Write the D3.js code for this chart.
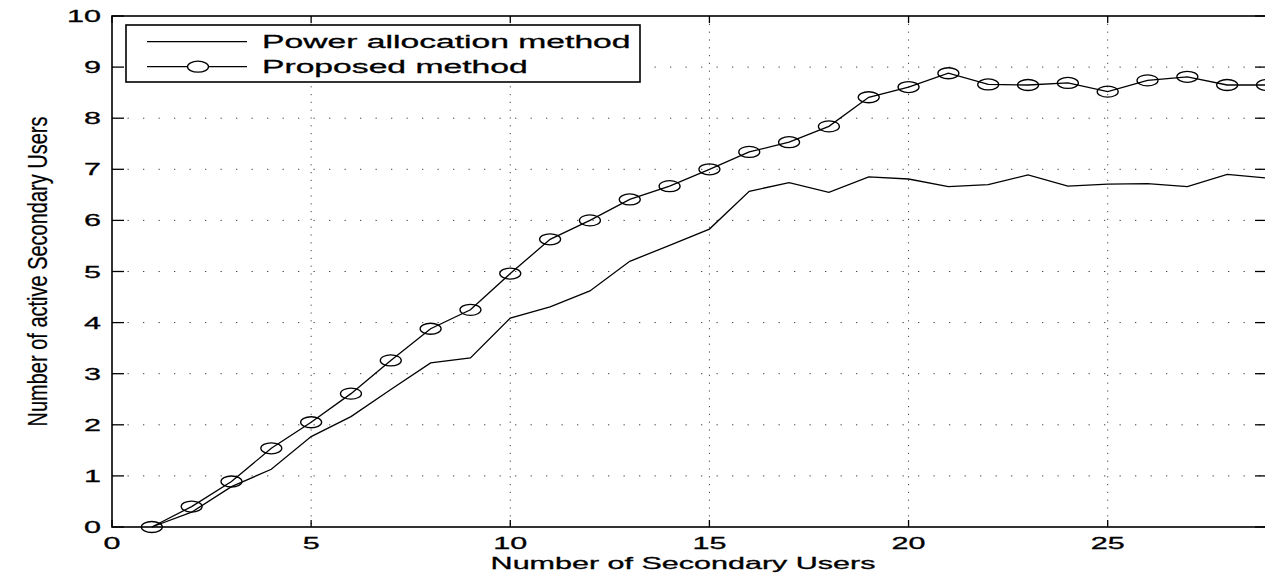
<!DOCTYPE html>
<html>
<head>
<meta charset="utf-8">
<script src="https://cdn.jsdelivr.net/npm/d3@7"></script>
<style>
  html, body { margin: 0; padding: 0; background: #fff; }
  svg { display: block; }
  text { font-family: "Liberation Sans", Arial, Helvetica, sans-serif; fill: #000;
         stroke: #000; stroke-width: 0.3px; }
</style>
</head>
<body>
<svg id="chart" width="1265" height="576"></svg>
<script>
// number of secondary users (x) and the two curves
const secondaryUsers = [1, 2, 3, 4, 5, 6, 7, 8, 9, 10, 11, 12, 13, 14, 15,
  16, 17, 18, 19, 20, 21, 22, 23, 24, 25, 26, 27, 28, 29];
const powerAllocation = [0, 0.29, 0.79, 1.13, 1.77, 2.16, 2.69, 3.21, 3.31, 4.09,
  4.31, 4.62, 5.2, 5.51, 5.83, 6.57, 6.74, 6.55, 6.85, 6.81, 6.66, 6.7, 6.89, 6.67,
  6.71, 6.72, 6.66, 6.9, 6.83];
const proposedMethod = [0, 0.4, 0.89, 1.54, 2.05, 2.61, 3.26, 3.88, 4.25, 4.96,
  5.63, 6.0, 6.41, 6.67, 7.0, 7.34, 7.53, 7.84, 8.41, 8.61, 8.88, 8.66, 8.65, 8.69,
  8.52, 8.74, 8.81, 8.65, 8.65];
const xTicks = [0, 5, 10, 15, 20, 25];
const yTicks = [0, 1, 2, 3, 4, 5, 6, 7, 8, 9, 10];
const legendLabels = ["Power allocation method", "Proposed method"];

const svg = d3.select("#chart");
const plotLeft = 112, plotRight = 1267, plotTop = 16, plotBottom = 527;

const xScale = d3.scaleLinear().domain([0, 29]).range([plotLeft, plotRight]);
const yScale = d3.scaleLinear().domain([0, 10]).range([plotBottom, plotTop]);

/**
 * Appends a text that is stretched horizontally like the original figure.
 */
function stretchedText(parent, x, y, sx, fontSize, anchor, label) {
  return parent.append("text")
    .attr("transform", `translate(${x},${y}) scale(${sx},1)`)
    .attr("text-anchor", anchor)
    .style("font-size", fontSize + "px")
    .text(label);
}

svg.append("rect").attr("width", 1265).attr("height", 576).attr("fill", "#fff");

// dotted grid
const grid = svg.append("g").attr("class", "grid");
grid.selectAll(".hgrid")
  .data(yTicks.slice(1, -1))
  .join("line")
  .attr("x1", plotLeft).attr("x2", plotRight)
  .attr("y1", (d) => yScale(d)).attr("y2", (d) => yScale(d))
  .attr("stroke", "#444").attr("stroke-width", 1)
  .attr("stroke-dasharray", "1.3,14.2");
grid.selectAll(".vgrid")
  .data(xTicks.slice(1))
  .join("line")
  .attr("x1", (d) => xScale(d)).attr("x2", (d) => xScale(d))
  .attr("y1", plotTop).attr("y2", plotBottom)
  .attr("stroke", "#444").attr("stroke-width", 1)
  .attr("stroke-dasharray", "1.2,6.6");

// inward ticks on all four sides
const ticks = svg.append("g").attr("stroke", "#000").attr("stroke-width", 1.3);
yTicks.forEach((d) => {
  ticks.append("line").attr("x1", plotLeft).attr("x2", plotLeft + 12)
    .attr("y1", yScale(d)).attr("y2", yScale(d));
  ticks.append("line").attr("x1", plotRight - 12).attr("x2", plotRight)
    .attr("y1", yScale(d)).attr("y2", yScale(d));
});
xTicks.forEach((d) => {
  ticks.append("line").attr("x1", xScale(d)).attr("x2", xScale(d))
    .attr("y1", plotBottom).attr("y2", plotBottom - 7);
  ticks.append("line").attr("x1", xScale(d)).attr("x2", xScale(d))
    .attr("y1", plotTop).attr("y2", plotTop + 7);
});

// axes frame
svg.append("rect")
  .attr("x", plotLeft).attr("y", plotTop)
  .attr("width", plotRight - plotLeft).attr("height", plotBottom - plotTop)
  .attr("fill", "none").attr("stroke", "#000").attr("stroke-width", 1.6);

// tick labels
const labels = svg.append("g");
yTicks.forEach((d) => {
  stretchedText(labels, 101, yScale(d) + 6, 1.85, 16.5, "end", d);
});
xTicks.forEach((d) => {
  stretchedText(labels, xScale(d), 549, 1.85, 16.5, "middle", d);
});

// axis titles
stretchedText(svg, 683, 569, 1.85, 16.5, "middle", "Number of Secondary Users");
svg.append("text")
  .attr("transform", `translate(47,${(plotTop + plotBottom) / 2}) scale(1.35,1) rotate(-90)`)
  .attr("text-anchor", "middle")
  .style("font-size", "20px")
  .style("stroke-width", "0.15px")
  .text("Number of active Secondary Users");

// curves
const line = (values) => d3.line()
  .x((d, i) => xScale(secondaryUsers[i]))
  .y((d) => yScale(d))(values);

svg.append("path")
  .attr("d", line(powerAllocation))
  .attr("fill", "none").attr("stroke", "#000").attr("stroke-width", 1.3);

svg.append("path")
  .attr("d", line(proposedMethod))
  .attr("fill", "none").attr("stroke", "#000").attr("stroke-width", 1.3);

svg.append("g")
  .selectAll("ellipse")
  .data(proposedMethod)
  .join("ellipse")
  .attr("cx", (d, i) => xScale(secondaryUsers[i]))
  .attr("cy", (d) => yScale(d))
  .attr("rx", 10.5).attr("ry", 5.5)
  .attr("fill", "none").attr("stroke", "#000").attr("stroke-width", 1.3);

// legend
const legend = svg.append("g");
legend.append("rect")
  .attr("x", 126).attr("y", 25).attr("width", 514).attr("height", 57)
  .attr("fill", "#fff").attr("stroke", "#000").attr("stroke-width", 1.6);
legendLabels.forEach((label, i) => {
  const ly = 41.7 + i * 25;
  legend.append("line")
    .attr("x1", 147).attr("x2", 247).attr("y1", ly).attr("y2", ly)
    .attr("stroke", "#000").attr("stroke-width", 1.3);
  if (i === 1) {
    legend.append("ellipse")
      .attr("cx", 198).attr("cy", ly).attr("rx", 10.5).attr("ry", 5.5)
      .attr("fill", "#fff").attr("stroke", "#000").attr("stroke-width", 1.3);
  }
  stretchedText(legend, 262, ly + 6.5, 1.81, 18.6, "start", label);
});
</script>
</body>
</html>
